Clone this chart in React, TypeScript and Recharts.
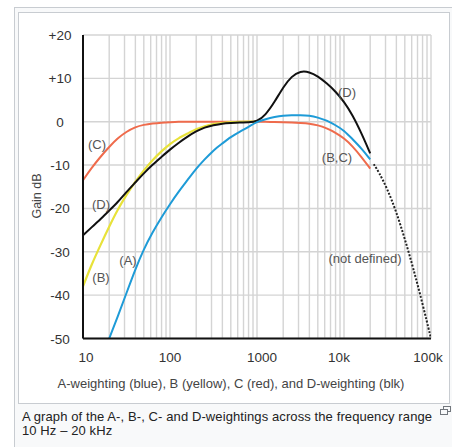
import { LineChart, Line, XAxis, YAxis, CartesianGrid } from "recharts";

// frequency (Hz) points used by the curves
const freqFull = [10, 12.5, 16, 20, 25, 31.5, 40, 50, 63, 80, 100, 125, 160, 200, 250, 315, 400, 500, 630, 800, 1000, 1250, 1600, 2000, 2500, 3150, 4000, 5000, 6300, 8000, 10000, 12500, 16000, 20000];
const freqA = [20, 25, 31.5, 40, 50, 63, 80, 100, 125, 160, 200, 250, 315, 400, 500, 630, 800, 1000, 1250, 1600, 2000, 2500, 3150, 4000, 5000, 6300, 8000, 10000, 12500, 16000, 20000];
const freqB = [10, 12.5, 16, 20, 25, 31.5, 40, 50, 63, 80, 100, 125, 160, 200, 250, 315, 400, 500, 630, 800, 1000];
const freqOut = [22000, 25000, 31500, 40000, 50000, 63000, 80000, 100000];

// gain in dB
const gainA = [-50, -45.0, -39.6, -34.0, -29.4, -25.5, -22.0, -19.0, -16.2, -13.4, -10.8, -8.7, -6.6, -5.0, -3.5, -2.3, -1.2, 0, 0.6, 1.1, 1.4, 1.5, 1.5, 1.4, 1.0, 0.3, -0.8, -2.0, -4.0, -6.2, -8.7];
const gainB = [-38, -33, -28.3, -24.2, -20.3, -16.9, -13.8, -11.2, -8.8, -6.8, -5.1, -3.8, -2.7, -1.7, -1.0, -0.5, -0.3, -0.1, 0, 0, 0];
const gainC = [-13.5, -10.7, -8.0, -5.8, -3.8, -2.3, -1.2, -0.7, -0.4, -0.2, -0.1, 0, 0, 0, 0, 0, 0, 0, 0, 0, 0, 0, -0.1, -0.1, -0.2, -0.3, -0.4, -0.8, -1.5, -2.5, -3.8, -5.6, -8.2, -10.8];
const gainD = [-26.2, -24.4, -22.4, -20.5, -18.6, -16.2, -14.0, -11.9, -9.9, -8.1, -6.4, -4.9, -3.4, -2.2, -1.3, -0.8, -0.4, -0.3, -0.2, -0.1, 0, 1.5, 4.6, 8.0, 10.5, 11.7, 11.5, 10.5, 8.9, 7.0, 4.6, 1.6, -2.8, -7.3];
const gainOut = [-9.8, -11.5, -15.5, -20.8, -27.0, -34.0, -42.0, -50];

const xTicks = [10, 20, 30, 40, 50, 60, 70, 80, 90, 100, 200, 300, 400, 500, 600, 700, 800, 900, 1000, 2000, 3000, 4000, 5000, 6000, 7000, 8000, 9000, 10000, 20000, 30000, 40000, 50000, 60000, 70000, 80000, 90000, 100000];
const xLabels: Record<number, string> = { 10: "10", 100: "100", 1000: "1000", 10000: "10k", 100000: "100k" };
const yTicks = [-50, -40, -30, -20, -10, 0, 10, 20];
const yLabels = ["-50", "-40", "-30", "-20", "-10", "0", "+10", "+20"];

const toRows = (f: number[], g: number[]) => f.map((v, i) => ({ f: v, db: g[i] }));
const dataA = toRows(freqA, gainA);
const dataB = toRows(freqB, gainB);
const dataC = toRows(freqFull, gainC);
const dataD = toRows(freqFull, gainD);
const dataOut = toRows(freqOut, gainOut);

const FONT = "'Liberation Sans', Arial, sans-serif";
const labelNudge: Record<number, number> = { 10: 3, 100: 0, 1000: 5, 10000: -5, 100000: -3 };

const XTick = (props: any) => {
  const { x, y, payload } = props;
  const txt = xLabels[payload.value];
  if (!txt) return null;
  return (
    <text x={x + (labelNudge[payload.value] || 0)} y={y + 15} textAnchor="middle" fontSize={13.5} fill="#333" fontFamily={FONT}>
      {txt}
    </text>
  );
};

const YTick = (props: any) => {
  const { y, payload } = props;
  const i = yTicks.indexOf(payload.value);
  return (
    <text x={60} y={y + 5} textAnchor="middle" fontSize={13.5} fill="#333" fontFamily={FONT}>
      {yLabels[i]}
    </text>
  );
};

const curveLabels = [
  { t: "(C)", x: 97, y: 144 },
  { t: "(D)", x: 101, y: 204 },
  { t: "(B)", x: 101, y: 277 },
  { t: "(A)", x: 128, y: 260 },
  { t: "(D)", x: 347, y: 92 },
  { t: "(B,C)", x: 337, y: 157 },
  { t: "(not defined)", x: 365, y: 258 },
];

export default function App() {
  return (
    <div style={{ position: "absolute", left: 0, top: 0, width: 452, height: 447, background: "#fff", overflow: "hidden", fontFamily: FONT }}>
      <div style={{ position: "absolute", left: 14, top: 7, width: 440, height: 450, background: "#f8f9fa", border: "1px solid #c8ccd1" }} />
      <div style={{ position: "absolute", left: 18, top: 12, width: 430, height: 390, background: "#fff", border: "1px solid #c8ccd1" }} />
      <div style={{ position: "absolute", left: 0, top: 0 }}>
        <LineChart width={452} height={447} margin={{ top: 35, right: 21, bottom: 78.5, left: 0 }}>
          <CartesianGrid stroke="#d4d4d4" strokeWidth={1.4} />
          <XAxis
            dataKey="f"
            type="number"
            scale="log"
            domain={[10, 100000]}
            ticks={xTicks}
            interval={0}
            tickLine={false}
            height={30}
            axisLine={{ stroke: "#111", strokeWidth: 2 }}
            tick={<XTick />}
            allowDataOverflow
          />
          <YAxis
            type="number"
            domain={[-50, 20]}
            ticks={yTicks}
            interval={0}
            width={83}
            tickLine={false}
            axisLine={{ stroke: "#111", strokeWidth: 2 }}
            tick={<YTick />}
            allowDataOverflow
          />
          <Line data={dataC} dataKey="db" type="basis" stroke="#ef6b4c" strokeWidth={2} dot={false} isAnimationActive={false} />
          <Line data={dataB} dataKey="db" type="basis" stroke="#e8e23a" strokeWidth={2.2} dot={false} isAnimationActive={false} />
          <Line data={dataD} dataKey="db" type="basis" stroke="#111" strokeWidth={2} dot={false} isAnimationActive={false} />
          <Line data={dataA} dataKey="db" type="basis" stroke="#1e9bd7" strokeWidth={2} dot={false} isAnimationActive={false} />
          <Line data={dataOut} dataKey="db" type="basis" stroke="#222" strokeWidth={2} strokeDasharray="2 1.6" dot={false} isAnimationActive={false} />
        </LineChart>
      </div>
      {curveLabels.map((l, i) => (
        <div key={i} style={{ position: "absolute", left: l.x, top: l.y, transform: "translate(-50%, -50%)", fontSize: 13, color: "#555", whiteSpace: "nowrap" }}>
          {l.t}
        </div>
      ))}
      <div style={{ position: "absolute", left: 37, top: 196, transform: "translate(-50%, -50%) rotate(-90deg)", fontSize: 12.5, color: "#444", whiteSpace: "nowrap" }}>
        Gain dB
      </div>
      <div style={{ position: "absolute", left: 231, top: 383, transform: "translate(-50%, -50%)", fontSize: 13, color: "#444", whiteSpace: "nowrap" }}>
        A-weighting (blue), B (yellow), C (red), and D-weighting (blk)
      </div>
      <div style={{ position: "absolute", left: 22, top: 410, width: 425, fontSize: 13, lineHeight: "14px", letterSpacing: 0.1, color: "#222", whiteSpace: "nowrap" }}>
        A graph of the A-, B-, C- and D-weightings across the frequency range
        <br />
        10 Hz – 20 kHz
      </div>
      <svg style={{ position: "absolute", left: 440, top: 406 }} width={12} height={10}>
        <rect x={3.5} y={0.5} width={7} height={5} fill="none" stroke="#72777d" />
        <rect x={0.5} y={3.5} width={7} height={5} fill="#f8f9fa" stroke="#72777d" />
      </svg>
    </div>
  );
}
